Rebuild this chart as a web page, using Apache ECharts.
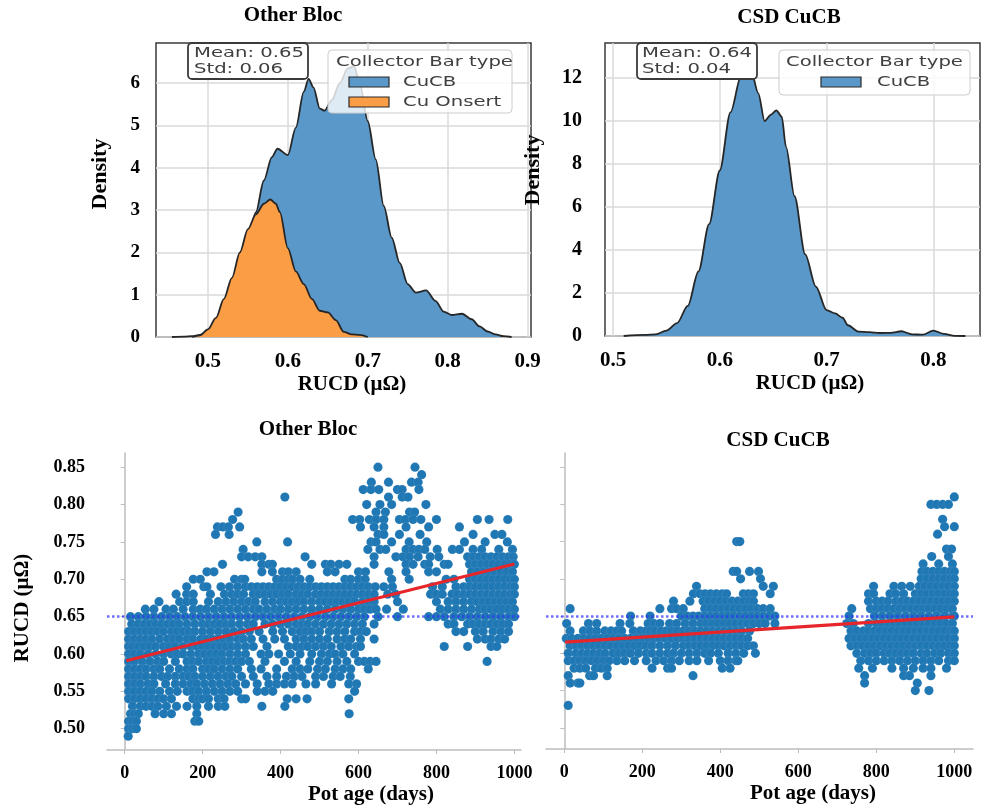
<!DOCTYPE html>
<html><head><meta charset="utf-8">
<script src="https://cdn.jsdelivr.net/npm/echarts@6/dist/echarts.min.js"></script>
<style>html,body{margin:0;padding:0;background:#fff}#c{width:981px;height:809px}</style>
</head><body><div id="c"></div>
<script>
// ---------------- DATA ----------------
const densTicksXLeft = [0.5, 0.6, 0.7, 0.8, 0.9];
const densTicksXRight = [0.5, 0.6, 0.7, 0.8];
const densTicksYLeft = [0, 1, 2, 3, 4, 5, 6];
const densTicksYRight = [0, 2, 4, 6, 8, 10, 12];
const ageTicks = [0, 200, 400, 600, 800, 1000];
const rucdTicks = [0.50, 0.55, 0.60, 0.65, 0.70, 0.75, 0.80, 0.85];

// KDE – Other Bloc, CuCB
const otherCuCBX = [0.455,0.47,0.48,0.49,0.50,0.51,0.52,0.53,0.54,0.55,0.56,0.57,0.58,0.587,0.60,0.61,0.62,0.626,0.632,0.64,0.646,0.655,0.665,0.675,0.683,0.69,0.70,0.71,0.72,0.73,0.74,0.75,0.76,0.773,0.785,0.795,0.805,0.818,0.83,0.84,0.85,0.86,0.87,0.88];
const otherCuCBY = [0,0.01,0.02,0.05,0.12,0.3,0.6,1.0,1.6,2.3,2.95,3.7,4.25,4.45,4.3,4.95,5.8,6.1,5.9,5.4,5.35,5.6,6.0,6.35,6.4,6.0,5.1,4.2,3.1,2.35,1.75,1.25,1.05,1.1,0.85,0.6,0.52,0.55,0.42,0.25,0.13,0.06,0.02,0];
// KDE – Other Bloc, Cu Onsert
const otherOnsertX = [0.48,0.49,0.50,0.51,0.52,0.53,0.54,0.55,0.56,0.57,0.578,0.585,0.59,0.60,0.61,0.62,0.63,0.64,0.65,0.66,0.67,0.68,0.69,0.70];
const otherOnsertY = [0,0.04,0.18,0.45,0.9,1.4,2.0,2.55,2.9,3.15,3.25,3.15,2.95,2.1,1.55,1.25,0.9,0.62,0.58,0.4,0.12,0.06,0.05,0];
// KDE – CSD CuCB
const csdCuCBX = [0.51,0.53,0.54,0.55,0.56,0.57,0.58,0.59,0.60,0.61,0.62,0.625,0.63,0.636,0.642,0.648,0.653,0.658,0.662,0.67,0.68,0.69,0.70,0.708,0.715,0.72,0.73,0.74,0.75,0.76,0.77,0.78,0.79,0.80,0.81,0.82,0.83];
const csdCuCBY = [0,0.05,0.08,0.25,0.6,1.4,3.0,5.2,7.7,10.4,12.1,12.5,12.2,11.3,10.0,10.3,10.5,10.2,8.8,6.5,3.8,2.3,1.2,1.05,0.85,0.5,0.2,0.18,0.14,0.15,0.22,0.08,0.06,0.25,0.1,0.01,0];

const otherStats = ['Mean: 0.65', 'Std: 0.06'];
const csdStats = ['Mean: 0.64', 'Std: 0.04'];
const refLevel = 0.65;
const otherFit = [[4, 0.591], [1000, 0.7205]];
const csdFit = [[2, 0.615], [1000, 0.649]];

// Scatter – Other Bloc: [RUCD level, pot ages]
const otherRows = [
 [0.85,[650,745]],
 [0.84,[762]],
 [0.83,[633,677,736,753]],
 [0.82,[612,632,652,700,712,755]],
 [0.81,[411,677,712,727]],
 [0.80,[621,655,685,773]],
 [0.79,[291,645,669,731,744]],
 [0.78,[277,585,603,628,645,665,705,720,740,760,800,905,935,983]],
 [0.77,[238,252,266,295,605,640,665,722,780,859]],
 [0.76,[233,268,650,665,705,758,894,950,968]],
 [0.75,[339,418,632,645,685,730,775,872,925,982]],
 [0.74,[304,624,655,670,722,740,755,770,802,841,859,894,916,960,995]],
 [0.73,[300,317,335,352,463,640,696,714,731,753,784,806,880,895,910,925,940,955,970,985,997]],
 [0.72,[251,352,370,379,480,515,529,550,570,640,722,740,770,780,820,830,885,900,915,930,945,960,975,990,1000]],
 [0.71,[211,229,352,379,405,420,440,520,540,600,618,678,722,780,800,890,905,920,935,950,965,980,995]],
 [0.70,[176,194,282,300,308,390,405,420,431,450,475,565,580,600,617,685,730,825,845,885,900,915,930,945,960,975,990,1000]],
 [0.69,[159,203,211,247,269,290,310,325,340,355,370,385,400,415,430,445,460,475,490,505,520,535,550,565,580,595,610,625,643,665,687,790,815,850,870,885,900,915,930,945,960,975,990,1000]],
 [0.68,[132,159,176,220,256,275,290,305,330,345,360,375,390,405,420,440,455,470,490,505,520,535,550,565,580,595,610,625,640,675,695,785,800,815,840,855,870,885,900,915,930,945,960,975,990,1000]],
 [0.67,[88,141,159,176,215,240,260,280,300,318,335,360,380,400,415,430,445,460,480,500,515,530,545,560,575,590,610,625,640,700,800,830,850,870,890,905,920,935,950,965,980,995]],
 [0.66,[53,75,106,125,150,176,194,210,230,250,270,290,310,330,345,365,385,400,420,440,460,480,500,520,540,560,580,600,615,630,645,672,715,810,830,850,870,890,910,925,940,955,970,985,1000]],
 [0.65,[15,35,55,75,95,115,135,155,175,195,215,235,255,275,295,315,335,355,375,395,415,435,455,475,495,515,535,555,575,595,615,650,700,780,800,820,845,865,885,905,925,945,965,985,1000]],
 [0.64,[18,35,50,65,80,95,110,125,140,160,180,200,215,230,245,260,275,295,315,330,360,380,400,420,440,455,470,490,510,530,550,570,590,610,640,830,845,880,895,910,925,940,955,970,985]],
 [0.63,[10,25,40,55,70,85,100,120,135,150,165,180,200,220,240,260,280,300,320,345,380,405,430,450,465,480,500,525,545,565,590,605,620,850,870,900,920,945,965,985]],
 [0.62,[10,25,40,55,70,90,110,125,140,160,175,195,210,225,240,255,270,290,305,325,355,385,410,440,460,480,500,520,545,565,580,605,640,905,925,940,960,975]],
 [0.61,[10,20,35,50,65,80,100,115,130,150,170,185,200,215,230,245,260,275,290,310,330,365,420,440,455,470,490,510,530,555,575,595,605,820,880,940,955]],
 [0.60,[10,25,40,60,80,100,120,135,150,170,190,205,220,235,250,270,290,310,350,370,395,425,450,480,505,525,540,560,590]],
 [0.59,[10,25,45,65,85,100,130,160,175,190,210,225,240,255,270,285,300,320,360,410,440,475,500,520,545,570,600,615,630,645,930]],
 [0.58,[10,25,40,55,75,90,115,140,160,175,200,215,230,250,270,290,325,350,390,430,450,470,495,515,540,560,580,625]],
 [0.57,[10,25,40,55,75,95,110,130,150,165,180,200,220,240,260,275,300,330,365,390,415,435,455,490,510,535,553,579]],
 [0.56,[10,25,40,60,75,105,130,150,170,185,205,225,245,265,285,310,340,370,390,410,430,465,490,531,575,595]],
 [0.55,[10,25,40,55,70,90,115,135,160,175,190,210,230,250,270,290,340,360,380,590]],
 [0.54,[10,25,40,55,70,85,100,120,175,190,200,215,240,255,300,310,417,440,468,575]],
 [0.53,[20,40,55,70,85,107,133,160,185,215,240,257,352,411]],
 [0.52,[15,25,35,78,100,120,185,576]],
 [0.51,[10,20,30,180,190]],
 [0.50,[10,20,30]],
 [0.49,[9]]
];

// Scatter – CSD CuCB: [RUCD level, pot ages]
const csdRows = [
 [0.81,[1000]],
 [0.80,[940,955,970,985]],
 [0.78,[970]],
 [0.77,[975,1000]],
 [0.76,[957]],
 [0.75,[442,450]],
 [0.74,[980,993]],
 [0.73,[942,985]],
 [0.72,[920,960,995]],
 [0.71,[433,442,475,498,917,930,945,960,975,990,1000]],
 [0.70,[452,503,915,930,945,960,975,990,1000]],
 [0.69,[339,510,536,793,845,865,887,910,925,940,955,970,985,1000]],
 [0.68,[331,348,361,375,390,405,416,459,472,485,528,780,793,835,850,870,900,915,930,945,960,975,990,1000]],
 [0.67,[280,322,356,370,385,400,415,430,445,460,475,485,780,800,815,830,850,865,880,895,910,925,940,955,970,985,1000]],
 [0.66,[15,245,275,288,305,360,375,390,405,420,435,450,465,480,495,510,528,737,785,800,815,830,845,860,875,890,905,920,935,950,965,980,995]],
 [0.65,[170,220,300,315,330,345,360,375,390,405,420,435,450,465,480,495,510,525,540,730,795,815,835,855,875,895,915,935,955,975,995,1000]],
 [0.64,[6,62,83,143,168,215,230,245,270,288,310,330,350,365,380,395,410,425,440,455,470,485,500,515,540,724,741,780,800,815,830,845,860,875,890,905,920,935,950,965,980,995]],
 [0.63,[15,49,66,83,104,120,135,147,177,195,210,220,233,248,262,275,290,305,320,335,350,365,380,395,410,425,440,455,475,735,750,767,780,795,810,825,840,855,870,885,900,915,930,945,960,975,990,1000]],
 [0.62,[5,19,35,50,65,80,95,110,125,140,155,170,185,200,215,230,245,260,275,290,305,320,335,350,365,380,395,410,425,440,455,470,730,745,760,775,790,805,820,835,850,865,880,895,910,925,940,955,970,985,1000]],
 [0.61,[15,30,45,60,75,90,105,120,135,150,165,180,195,210,225,245,265,285,305,320,335,350,365,380,395,410,425,440,455,470,485,735,750,765,780,795,810,825,840,855,870,885,900,915,930,945,960,975,990,1000]],
 [0.60,[10,30,45,60,75,90,105,125,140,155,170,190,210,225,245,265,280,300,320,340,360,375,395,420,440,460,490,750,770,785,800,820,835,850,865,880,895,915,930,950,965,985,1000]],
 [0.59,[10,25,40,55,70,85,100,115,135,155,180,210,235,255,275,295,320,340,370,400,420,440,445,760,780,800,820,840,860,880,900,920,940,960,985,1000]],
 [0.58,[25,40,55,80,95,110,225,265,275,405,425,755,790,840,870,895,920,940,980]],
 [0.57,[10,65,75,110,330,770,870,885,940]],
 [0.56,[15,35,40,770,905]],
 [0.55,[900,935]],
 [0.53,[10]]
];

// ---------------- BUILD ----------------
const zip = (xs, ys) => xs.map((x, i) => [x, ys[i]]);
const rowsToPoints = rows => rows.flatMap(([y, xs]) => xs.map(x => [x, y]));

const SERIF = '"Liberation Serif","Times New Roman",serif';
const SANS = '"DejaVu Sans",sans-serif';
const BLUE_FILL = '#5a98c9';
const ORANGE_FILL = '#fb9d45';
const DOT = '#1f77b4';

const bold = (size) => ({fontFamily: SERIF, fontWeight: 'bold', fontSize: size, color: '#000'});

function densX(grid, min, max, ticks, pad) {
  return {gridIndex: grid, type: 'value', min, max,
    axisLine: {show: false}, axisTick: {show: false, customValues: ticks},
    axisLabel: Object.assign({customValues: ticks, margin: 14, formatter: v => v.toFixed(1)}, bold(21)),
    splitLine: {show: true, lineStyle: {color: '#dadada', width: 1.5}},
    name: 'RUCD (μΩ)', nameLocation: 'middle', nameGap: 37, nameMoveOverlap: false,
    nameTextStyle: Object.assign({padding: [0, 0, 0, pad]}, bold(21))};
}
function densY(grid, max, ticks, size, margin) {
  return {gridIndex: grid, type: 'value', min: 0, max,
    axisLine: {show: false}, axisTick: {show: false, customValues: ticks},
    axisLabel: Object.assign({customValues: ticks, margin}, bold(size)),
    splitLine: {show: true, lineStyle: {color: '#dadada', width: 1.5}}};
}
function ageX(grid, min, max, pad) {
  return {gridIndex: grid, type: 'value', min, max,
    axisLine: {show: true, lineStyle: {color: '#bdbdbd', width: 1.5}},
    axisTick: {show: true, customValues: ageTicks, length: 4, lineStyle: {color: '#bdbdbd'}},
    axisLabel: Object.assign({customValues: ageTicks, margin: 14, formatter: v => String(Math.round(v))}, bold(18)),
    splitLine: {show: false},
    name: 'Pot age (days)', nameLocation: 'middle', nameGap: 34, nameMoveOverlap: false,
    nameTextStyle: Object.assign({padding: [0, 0, 0, pad]}, bold(21))};
}
function rucdY(grid, showLabels) {
  return {gridIndex: grid, type: 'value', min: 0.4715, max: 0.869,
    axisLine: {show: true, lineStyle: {color: '#bdbdbd', width: 1.5}},
    axisTick: {show: true, customValues: rucdTicks, length: 4, lineStyle: {color: '#bdbdbd'}},
    axisLabel: Object.assign({show: showLabels, customValues: rucdTicks, margin: 22, formatter: v => v.toFixed(2)}, bold(18)),
    splitLine: {show: false}};
}
function kde(name, xi, yi, xs, ys, fill, z) {
  return {type: 'line', name, xAxisIndex: xi, yAxisIndex: yi, data: zip(xs, ys),
    smooth: 0.3, smoothMonotone: 'x', showSymbol: false, symbol: 'none', z,
    lineStyle: {color: '#262626', width: 1.8},
    itemStyle: {color: fill},
    areaStyle: {color: fill, opacity: 1}};
}
function scatter(name, xi, yi, rows, fit) {
  return {type: 'scatter', name, xAxisIndex: xi, yAxisIndex: yi, data: rowsToPoints(rows),
    symbolSize: 9.2, itemStyle: {color: DOT, borderColor: 'rgba(255,255,255,0.3)', borderWidth: 0.3, opacity: 1},
    markLine: {silent: true, symbol: ['none', 'none'], label: {show: false}, animation: false, z: 10,
      data: [
        {yAxis: refLevel, lineStyle: {color: 'rgba(50,50,255,0.7)', type: 'dotted', width: 2.5}},
        [{coord: fit[0], lineStyle: {color: '#e6262b', width: 3.2, type: 'solid'}}, {coord: fit[1]}]
      ]}};
}

function txt(text, x, y, size, rot) {
  return {type: 'text', x, y, rotation: rot || 0, z: 100,
    style: {text, font: `bold ${size}px ${SERIF}`, fill: '#000', textAlign: 'center', textVerticalAlign: 'middle'}};
}
function smallTxt(text, x, y) {
  return {type: 'text', x, y, scaleX: 1.4, z: 101,
    style: {text, font: `14px ${SANS}`, fill: '#404040', textAlign: 'left', textVerticalAlign: 'middle'}};
}
function box(x, y, w, h, stroke, lw, fill) {
  return {type: 'rect', z: 99, shape: {x, y, width: w, height: h, r: 4},
    style: {fill, stroke, lineWidth: lw}};
}
function icon(x, y, fill) {
  return {type: 'rect', z: 101, shape: {x, y, width: 40, height: 10}, style: {fill, stroke: '#2a2a2a', lineWidth: 1.2}};
}

const graphics = [
  txt('Other Bloc', 293, 16, 21), txt('CSD CuCB', 789, 18, 21),
  txt('Other Bloc', 308, 430, 21), txt('CSD CuCB', 778, 441, 21),
  txt('Density', 100, 174, 22, Math.PI / 2), txt('Density', 533, 170, 22, Math.PI / 2),
  txt('RUCD (μΩ)', 23, 608, 21, Math.PI / 2),
  // stats boxes
  box(188, 43, 120, 36, '#3a3a3a', 1.8, '#ffffff'),
  smallTxt(otherStats[0], 194, 53), smallTxt(otherStats[1], 194, 69),
  box(637, 43, 120, 36, '#3a3a3a', 1.8, '#ffffff'),
  smallTxt(csdStats[0], 642, 53), smallTxt(csdStats[1], 642, 69),
  // legends
  box(328, 50, 184, 63, '#cccccc', 1, 'rgba(255,255,255,0.8)'),
  smallTxt('Collector Bar type', 336, 62),
  icon(349, 77, BLUE_FILL), smallTxt('CuCB', 403, 82),
  icon(349, 97, ORANGE_FILL), smallTxt('Cu Onsert', 403, 102),
  box(779, 50, 191, 45, '#cccccc', 1, 'rgba(255,255,255,0.8)'),
  smallTxt('Collector Bar type', 786, 62),
  icon(821, 77, BLUE_FILL), smallTxt('CuCB', 877, 82)
];

const chart = echarts.init(document.getElementById('c'), null, {renderer: 'canvas'});
chart.setOption({
  animation: false,
  backgroundColor: '#ffffff',
  grid: [
    {left: 156, top: 43, width: 375, height: 294, show: true, borderColor: '#3a3a3a', borderWidth: 1.5, backgroundColor: 'rgba(0,0,0,0)', outerBoundsMode: 'none'},
    {left: 605, top: 43, width: 375, height: 293, show: true, borderColor: '#3a3a3a', borderWidth: 1.5, backgroundColor: 'rgba(0,0,0,0)', outerBoundsMode: 'none'},
    {left: 107, top: 453, width: 414, height: 297, outerBoundsMode: 'none'},
    {left: 546, top: 453, width: 427, height: 296, outerBoundsMode: 'none'}
  ],
  xAxis: [
    densX(0, 0.435, 0.9043, densTicksXLeft, 17),
    densX(1, 0.4925, 0.8437, densTicksXRight, 35),
    ageX(2, -45.4, 1017, 114),
    ageX(3, -46.9, 1047.9, 107)
  ],
  yAxis: [
    densY(0, 6.95, densTicksYLeft, 19, 16),
    densY(1, 13.63, densTicksYRight, 20, 23),
    rucdY(2, true),
    rucdY(3, false)
  ],
  series: [
    kde('CuCB', 0, 0, otherCuCBX, otherCuCBY, BLUE_FILL, 2),
    kde('Cu Onsert', 0, 0, otherOnsertX, otherOnsertY, ORANGE_FILL, 3),
    kde('CuCB', 1, 1, csdCuCBX, csdCuCBY, BLUE_FILL, 2),
    scatter('Other Bloc', 2, 2, otherRows, otherFit),
    scatter('CSD CuCB', 3, 3, csdRows, csdFit)
  ],
  graphic: {elements: graphics}
});
</script></body></html>
